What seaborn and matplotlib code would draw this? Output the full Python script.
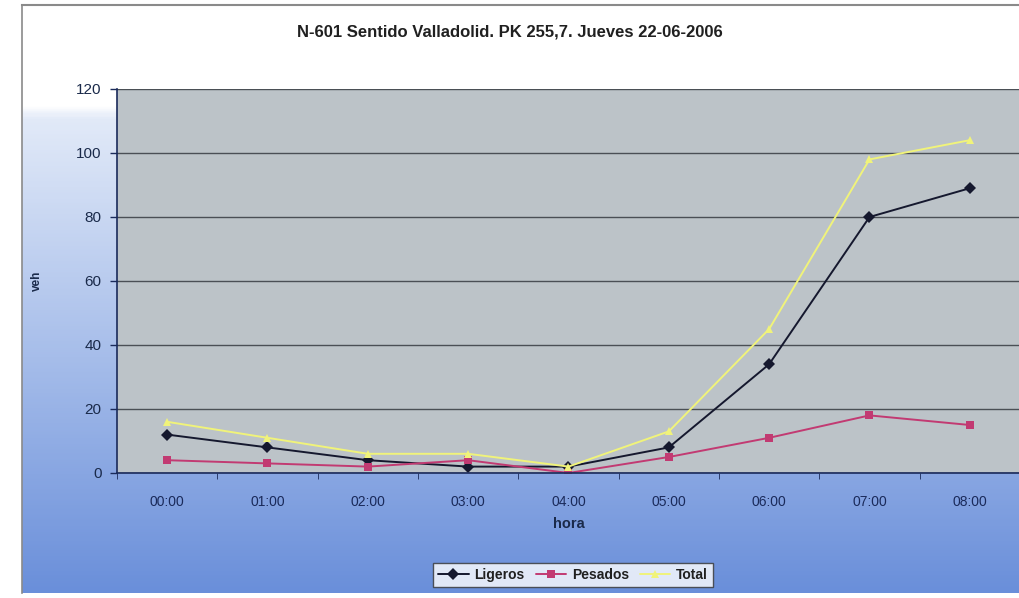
import numpy as np
import pandas as pd
import matplotlib
matplotlib.use('Agg')
import matplotlib.pyplot as plt
from matplotlib.colors import LinearSegmentedColormap
import seaborn as sns

# DATA
horas = ['00:00', '01:00', '02:00', '03:00', '04:00', '05:00', '06:00', '07:00', '08:00']
ligeros = [12, 8, 4, 2, 2, 8, 34, 80, 89]
pesados = [4, 3, 2, 4, 0, 5, 11, 18, 15]
total = [16, 11, 6, 6, 2, 13, 45, 98, 104]
series = ['Ligeros', 'Pesados', 'Total']

# LONG FORMAT FOR SEABORN
df = pd.DataFrame({
    'pos': list(range(len(horas))) * 3,
    'veh': ligeros + pesados + total,
    'serie': [s for s in series for _ in horas],
})

sns.set_style('white')
plt.rcParams['font.family'] = ['Liberation Sans', 'DejaVu Sans']

W, H = 1020, 598
fig = plt.figure(figsize=(W / 100, H / 100), dpi=100)
fig.patch.set_facecolor('white')

# GRADIENT BACKGROUND (white on top, blue at the bottom)
bg = fig.add_axes([22 / W, 5 / H, 1 - 22 / W, (593 - 5) / H])
bg_cmap = LinearSegmentedColormap.from_list('bg', [
    (0.0, '#ffffff'), (0.17, '#ffffff'), (0.19, '#e2eaf8'),
    (0.6, '#a6bdea'), (1.0, '#6a8fda')])
grad = np.linspace(0, 1, 300).reshape(-1, 1)
bg.imshow(grad, aspect='auto', cmap=bg_cmap, extent=[0, 1, 0, 1])
bg.set_xticks([])
bg.set_yticks([])
for side in ['right', 'bottom']:
    bg.spines[side].set_visible(False)
bg.spines['top'].set_color('#8a8a8a')
bg.spines['left'].set_color('#8a8a8a')
bg.spines['top'].set_linewidth(1.5)
bg.spines['left'].set_linewidth(1.2)

# PLOT AREA
left, right, top, bottom = 117, 1020, 89, 473
ax = fig.add_axes([left / W, 1 - bottom / H, (right - left) / W, (bottom - top) / H])
ax.set_facecolor('#bcc3c8')

palette = {'Ligeros': '#15182e', 'Pesados': '#c23a72', 'Total': '#f0f37a'}
markers = {'Ligeros': 'D', 'Pesados': 's', 'Total': '^'}
sns.lineplot(data=df, x='pos', y='veh', hue='serie', style='serie',
             palette=palette, markers=markers, dashes=False,
             markersize=6, linewidth=1.4, markeredgewidth=0,
             legend=False, ax=ax)

ax.set_xlim(-0.5, -0.5 + (right - left) / 101.9)
ax.set_ylim(0, 120)
ax.set_yticks(range(0, 121, 20))
ax.set_xticks(range(len(horas)))
ax.set_xticklabels(horas)
ax.set_xticks(np.arange(-0.5, 8.6, 1), minor=True)
ax.yaxis.grid(True, color='#4a4f55', linewidth=1.0)
ax.set_axisbelow(True)
ax.tick_params(axis='y', left=True, length=5, width=1, color='#1a2a5a',
               labelsize=11, labelcolor='#1a2a4a', pad=6)
ax.tick_params(axis='x', which='major', bottom=False, labelsize=10,
               labelcolor='#1a2a5a', pad=12)
ax.tick_params(axis='x', which='minor', bottom=True, length=4, color='#1a2a5a')
for side in ['top', 'right']:
    ax.spines[side].set_visible(False)
ax.spines['left'].set_color('#1a2a5a')
ax.spines['bottom'].set_color('#1a2a5a')
ax.spines['left'].set_linewidth(1.2)
ax.spines['bottom'].set_linewidth(1.2)

ax.set_xlabel('hora', fontsize=10.5, fontweight='bold', color='#1a2a4a', labelpad=6)
ax.set_ylabel('veh', fontsize=8.5, fontweight='bold', color='#1a2a4a', labelpad=24)

fig.text(510 / W, 1 - 32 / H, 'N-601 Sentido Valladolid. PK 255,7. Jueves 22-06-2006',
         ha='center', va='center', fontsize=12, fontweight='bold', color='#202020')

# LEGEND
handles = [plt.Line2D([], [], color=palette[s], marker=markers[s], markersize=6,
                      markeredgewidth=0, linewidth=1.4) for s in series]
leg = fig.legend(handles, series, loc='center', ncol=3,
                 bbox_to_anchor=(573 / W, 1 - 575 / H), frameon=True,
                 fancybox=False, fontsize=10, handlelength=2.2,
                 columnspacing=0.8, handletextpad=0.4, borderpad=0.35)
leg.get_frame().set_edgecolor('#333333')
leg.get_frame().set_linewidth(1.0)
for t in leg.get_texts():
    t.set_fontweight('bold')
    t.set_color('#202020')

fig.savefig('out.png', dpi=100)
